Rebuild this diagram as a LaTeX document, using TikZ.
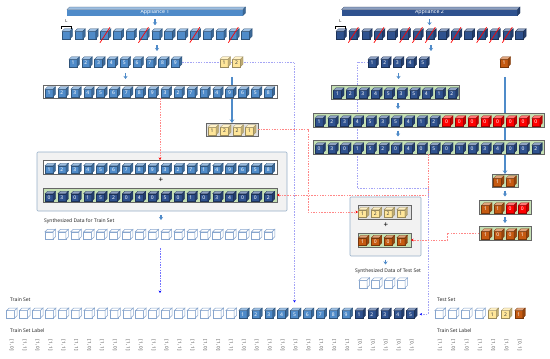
\documentclass[tikz,border=0pt]{standalone}
\usepackage{fontspec}
\setmainfont{Noto Sans}
\usetikzlibrary{calc,arrows.meta,backgrounds}

\definecolor{appA}{RGB}{79,139,201}
\definecolor{appB}{RGB}{47,82,143}
\definecolor{yel}{RGB}{255,230,153}
\definecolor{ora}{RGB}{197,90,17}
\definecolor{hol}{RGB}{135,165,205}
\definecolor{grn}{RGB}{197,224,180}
\definecolor{panel}{RGB}{242,242,242}
\definecolor{paneledge}{RGB}{150,175,200}
\definecolor{viol}{RGB}{165,165,245}
\definecolor{pinkred}{RGB}{255,135,135}

\tikzset{
  cubeface/.style={rectangle, minimum width=8pt, minimum height=7.5pt, inner sep=0pt, outer sep=0pt, line width=.3pt, text=white, font=\fontsize{5}{5}\selectfont},
  rowspan/.style={rectangle, inner sep=0pt, outer sep=0pt},
  rowbox/.style={rowspan, draw=black!60, fill=white, line width=.5pt},
  greenbox/.style={rowbox, fill=grn},
  greybox/.style={rowbox, fill=black!12},
  panelbox/.style={rowspan, draw=paneledge, fill=panel, line width=.6pt, rounded corners=1pt},
  bar/.style={rowspan, minimum width=176pt, minimum height=6pt, text=white, font=\fontsize{5.3}{6}\selectfont},
  plus/.style={inner sep=0pt, font=\bfseries\fontsize{8}{8}\selectfont},
  stepper/.style={draw=appA, line width=1.3pt, -{Stealth[length=3pt,width=4pt]}},
  feedline/.style={draw=appA, line width=1.2pt, -{Stealth[length=3.5pt,width=4.5pt]}},
  reddash/.style={draw=pinkred, line width=.5pt, dash pattern=on 1.5pt off 1.2pt, -{Stealth[length=2.5pt,width=2.5pt,red]}},
  violdash/.style={draw=viol, line width=.5pt, dash pattern=on 1.5pt off 1.2pt, -{Stealth[length=2.5pt,width=2.5pt,blue]}},
  bluedash/.style={violdash, draw=blue!55},
  slash/.style={draw=red, line width=.7pt},
  lbl/.style={anchor=west, inner sep=0pt, font=\fontsize{5}{6}\selectfont, text=black!85},
  tag/.style={rotate=-90, inner sep=0pt, font=\fontsize{4.6}{5}\selectfont, text=black!70},
}

% top and side of a block
\newcommand{\faces}[2]{%
  \path[draw=#2!60!black, fill=#2!55!white, line width=.3pt] (#1.north west) -- ++(2.5,-2.5) -- ($(#1.north east)+(2.5,-2.5)$) -- (#1.north east) -- cycle;
  \path[draw=#2!60!black, fill=#2!75!black, line width=.3pt] (#1.north east) -- ++(2.5,-2.5) -- ($(#1.south east)+(2.5,-2.5)$) -- (#1.south east) -- cycle;}
\newcommand{\cubeat}[6][]{%
  \node[cubeface, fill=#5, draw=#5!60!black, #1] (#2) at ({#3},{#4}) {#6};
  \faces{#2}{#5}}
\newcommand{\hollowat}[3]{%
  \node[cubeface, fill=white, draw=hol, line width=.5pt] (#1) at ({#2},{#3}) {};
  \path[draw=hol, fill=white, line width=.5pt] (#1.north west) -- ++(2.5,-2.5) -- ($(#1.north east)+(2.5,-2.5)$) -- (#1.north east) -- cycle;
  \path[draw=hol, fill=white, line width=.5pt] (#1.north east) -- ++(2.5,-2.5) -- ($(#1.south east)+(2.5,-2.5)$) -- (#1.south east) -- cycle;}
\newcommand{\steparrow}[3][0]{\draw[stepper] ($(#2.south)!.5!(#2.south |- #3.north)+(#1,-3)$) -- ++(0,6);}

\begin{document}
\begin{tikzpicture}[x=1pt, y=-1pt]
\useasboundingbox (0,0) rectangle (550,359);

% appliance 1
\node[bar, fill=appA] (app1) at (155,12.5) {Appliance 1};
\faces{app1}{appA}
\node[rowspan, minimum width=190pt, minimum height=10pt] (a1raw) at (157,34) {};
\foreach \i in {1,...,15}
  {\cubeat{a1w-\i}{66+(\i-1)*12.83}{35}{appA}{}}
\foreach \k in {4,7,11,14}
  {\draw[slash] ($(a1w-\k.south west)+(-.5,4)$) -- ($(a1w-\k.north east)+(1.5,-4)$);}
\draw[line width=.5pt] ($(a1w-1.north west)+(-.5,-2.5)$) -- ++(0,-2.5) -- ++(10,0) node[midway, above=.5pt, font=\fontsize{4}{4}\selectfont]{L} -- ++(0,2.5);

\node[rowspan, minimum width=113pt, minimum height=10pt] (a1r2) at (125.5,62) {};
\foreach \i in {1,...,9}
  {\cubeat{a1n-\i}{73+(\i-1)*12.8}{63}{appA}{\i}}
\cubeat[text=black!75]{a1y-1}{224}{63}{yel}{1}
\cubeat[text=black!75]{a1y-2}{236.5}{63}{yel}{2}

\node[rowbox, minimum width=234pt, minimum height=13pt] (a1r3) at (160,91.5) {};
\foreach \v [count=\i] in {1,2,3,4,5,6,7,8,9,3,2,7,1,4,9,6,5,8}
  {\cubeat{a1m-\i}{49+(\i-1)*12.9}{93}{appA}{\v}}

\node[greybox, minimum width=52pt, minimum height=13pt] (y4) at (232,129.5) {};
\foreach \v [count=\i] in {1,2,2,1}
  {\cubeat[text=black!75]{y4-\i}{212+(\i-1)*12.5}{131}{yel}{\v}}

% mixing for train set
\node[panelbox, minimum width=250pt, minimum height=59pt] (mixpanel) at (162,181.5) {};
\node[rowbox, minimum width=234pt, minimum height=14pt] (mix1) at (160,167) {};
\foreach \v [count=\i] in {1,2,3,4,5,6,7,8,9,3,2,7,1,4,9,6,5,8}
  {\cubeat{mx1-\i}{49+(\i-1)*12.9}{169.5}{appA}{\v}}
\node[plus] (plus1) at (161,180.5) {+};
\node[greenbox, minimum width=234pt, minimum height=14pt] (mix2) at (160,195) {};
\foreach \v [count=\i] in {0,3,0,1,5,2,0,4,0,5,0,1,0,3,4,0,0,2}
  {\cubeat{mx2-\i}{49+(\i-1)*12.9}{197.5}{appB}{\v}}
\draw[stepper] ($(mixpanel.south)+(-1,4)$) -- ++(0,5);
\node[lbl] (synlbl) at (44,221) {Synthesized Data for Train Set};
\node[rowspan, minimum width=232pt, minimum height=10pt] (synrow) at (160,234) {};
\foreach \i in {1,...,18}
  {\hollowat{sy-\i}{49+(\i-1)*12.9}{235.5}}

% appliance 2
\node[bar, fill=appB] (app2) at (429.5,12.5) {Appliance 2};
\faces{app2}{appB}
\node[rowspan, minimum width=190pt, minimum height=10pt] (b1raw) at (431,34) {};
\foreach \i in {1,...,15}
  {\cubeat{b1w-\i}{340+(\i-1)*12.83}{35}{appB}{}}
\foreach \k in {2,4,6,7,8,10,12,13,14}
  {\draw[slash] ($(b1w-\k.south west)+(-.5,4)$) -- ($(b1w-\k.north east)+(1.5,-4)$);}
\draw[line width=.5pt] ($(b1w-1.north west)+(-.5,-2.5)$) -- ++(0,-2.5) -- ++(10,0) node[midway, above=.5pt, font=\fontsize{4}{4}\selectfont]{L} -- ++(0,2.5);

\node[rowspan, minimum width=61pt, minimum height=10pt] (b2) at (398.5,62) {};
\foreach \i in {1,...,5}
  {\cubeat{b2n-\i}{372+(\i-1)*12.7}{63}{appB}{\i}}
\cubeat{b2o}{504}{63}{ora}{1}

\node[greenbox, minimum width=128pt, minimum height=14pt] (b3) at (395,92) {};
\foreach \v [count=\i] in {1,2,3,4,5,3,5,4,1,2}
  {\cubeat{b3-\i}{337.5+(\i-1)*12.7}{94}{appB}{\v}}

\node[greenbox, minimum width=231pt, minimum height=14pt] (b4) at (428.5,120) {};
\foreach \v [count=\i] in {1,2,3,4,5,3,5,4,1,2}
  {\cubeat{b4-\i}{319+(\i-1)*12.75}{122}{appB}{\v}}
\foreach \i in {11,...,18}
  {\cubeat{b4-\i}{319+(\i-1)*12.75}{122}{red}{0}}

\node[greenbox, minimum width=231pt, minimum height=14pt] (b5) at (428.5,147) {};
\foreach \v [count=\i] in {0,3,0,1,5,2,0,4,0,5,0,1,0,3,4,0,0,2}
  {\cubeat{b5-\i}{319+(\i-1)*12.75}{149}{appB}{\v}}

% appliance 2 for test set
\node[greenbox, minimum width=26pt, minimum height=13pt] (o1) at (505,180.5) {};
\cubeat{o1-1}{497.5}{182}{ora}{1}
\cubeat{o1-2}{510}{182}{ora}{1}
\node[greenbox, minimum width=52pt, minimum height=14pt] (o2) at (505,207) {};
\foreach \v/\c [count=\i] in {1/ora,1/ora,0/red,0/red}
  {\cubeat{o2-\i}{485.5+(\i-1)*12.3}{209}{\c}{\v}}
\node[greenbox, minimum width=52pt, minimum height=14pt] (o3) at (505,233) {};
\foreach \v [count=\i] in {1,0,0,1}
  {\cubeat{o3-\i}{485.5+(\i-1)*12.3}{235}{ora}{\v}}

% mixing for test set
\node[panelbox, minimum width=71pt, minimum height=59pt] (tpanel) at (385.5,226.5) {};
\node[greybox, minimum width=53pt, minimum height=14pt] (tmix1) at (384.5,212) {};
\foreach \v [count=\i] in {1,2,2,1}
  {\cubeat[text=black!75]{tm1-\i}{362.5+(\i-1)*12.8}{213.5}{yel}{\v}}
\node[plus] (plus2) at (386,225.5) {+};
\node[greenbox, minimum width=53pt, minimum height=14pt] (tmix2) at (384.5,240) {};
\foreach \v [count=\i] in {1,0,0,1}
  {\cubeat{tm2-\i}{362.5+(\i-1)*12.8}{241.5}{ora}{\v}}
\draw[stepper] ($(tpanel.south)+(0,3.5)$) -- ++(0,5);
\node[lbl, anchor=center] (tsynlbl) at (388,271) {Synthesized Data of Test Set};
\foreach \i in {1,...,4}
  {\hollowat{ts-\i}{363+(\i-1)*12.7}{284}}

% train set
\node[lbl] (trainlbl) at (10,300) {Train Set};
\node[rowspan, minimum width=412pt, minimum height=10pt] (trainrow) at (212,313) {};
\foreach \i in {1,...,18}
  {\hollowat{tr-\i}{10.7+(\i-1)*12.9}{314.25}}
\foreach \i [evaluate=\i as \j using int(\i+18)] in {1,...,9}
  {\cubeat{tr-\j}{10.7+(\j-1)*12.9}{314.25}{appA}{\i}}
\foreach \i [evaluate=\i as \j using int(\i+27)] in {1,...,5}
  {\cubeat{tr-\j}{10.7+(\j-1)*12.9}{314.25}{appB}{\i}}
\node[lbl] (trainlab) at (10,331) {Train Set Label};
\foreach \a/\b [count=\i] in {1/0,1/1,1/0,1/1,1/1,1/1,1/0,1/1,1/0,1/1,1/0,1/1,1/0,1/1,1/1,1/0,1/0,1/1,1/0,1/0,1/0,1/0,1/0,1/0,1/0,1/0,1/0,0/1,0/1,0/1,0/1,0/1}
  {\node[tag] (trl-\i) at ($(tr-\i)+(1,31)$) {[\a, \b]};}

% test set
\node[lbl] (testlbl) at (437,300) {Test Set};
\foreach \i in {1,...,4}
  {\hollowat{te-\i}{439+(\i-1)*13.3}{314.25}}
\cubeat[text=black!75]{te-5}{439+4*13.3}{314.25}{yel}{1}
\cubeat[text=black!75]{te-6}{439+5*13.3}{314.25}{yel}{2}
\cubeat{te-7}{439+6*13.3}{314.25}{ora}{1}
\node[lbl] (testlab) at (437,331) {Train Set Label};
\foreach \a/\b [count=\i] in {1/1,1/0,1/0,1/1,1/0,1/0,0/1}
  {\node[tag] (tel-\i) at ($(te-\i)+(1,31)$) {[\a, \b]};}

% steps
\steparrow{app1}{a1raw}
\steparrow{a1raw}{a1r2}
\steparrow{a1r2}{a1r3}
\steparrow{app2}{b1raw}
\steparrow{b1raw}{b2}
\steparrow{b2}{b3}
\steparrow[3]{b3}{b4}
\steparrow[-30.5]{b4}{b5}
\steparrow{o1}{o2}
\steparrow{o2}{o3}

% red links
\draw[reddash] (a1r3.south) -- (mix1.north);
\draw[reddash] (y4.east) -- ++(50,0) |- (tmix1.west);
\draw[reddash] (b5.south) |- (mix2.east);
\draw[reddash] (o3.west) -- ++(-32,0) |- (tmix2.east);
\draw[bluedash] ($(synrow.south)+(0,9)$) -- ($(synrow.south |- trainrow.north)+(0,-15)$);

\begin{scope}[on background layer]
  \draw[violdash] (a1r2.east) -| ($(tr-23.north)+(0,-8)$);
  \draw[violdash] (b2.west) -- ++(-11,0) -- ++(0,126) -- ++(71,0) |- ($(tr-32.east)+(5,0)$);
  \draw[feedline] ($(y4.north |- a1y-1.south)+(0,10)$) -- (y4.north);
  \draw[feedline] ($(o1.north |- b2o.south)+(0,10)$) -- (o1.north);
\end{scope}
\end{tikzpicture}
\end{document}
